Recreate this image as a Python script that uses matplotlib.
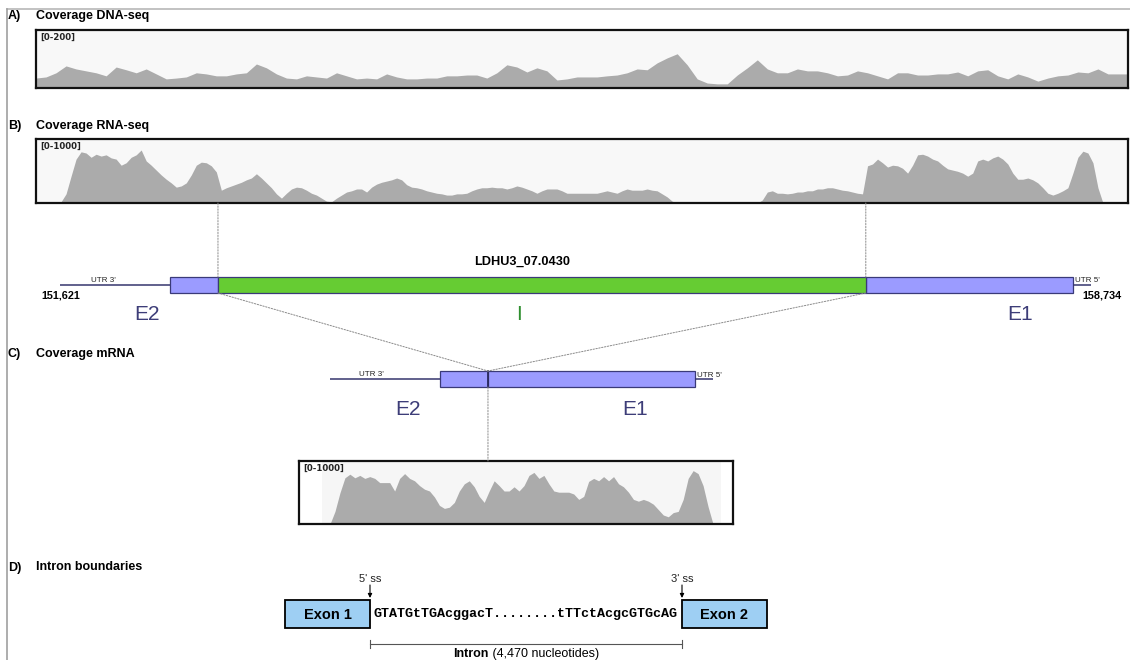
import numpy as np
import matplotlib.pyplot as plt
from matplotlib.patches import Rectangle, ConnectionPatch
from matplotlib.transforms import blended_transform_factory

W, H = 1130, 660
BP_PER_PX = 6.9

# Gene model (genomic coordinates, bp)
gene_name = 'LDHU3_07.0430'
gene_start = 151621
gene_end = 158734
cds_start = 152380      # E2 coding part starts
cds_end = 158611        # E1 coding part ends
intron_start = 152711
intron_len = 4470
intron_end = intron_start + intron_len

# Coverage (reads per bin)
dna_range = 200
dna_cov = [
    36, 40, 55, 80, 69, 62, 55, 44, 76, 66,
    55, 69, 51, 33, 36, 40, 55, 51, 44, 44,
    51, 55, 87, 73, 51, 36, 33, 44, 40, 36,
    55, 44, 33, 36, 33, 51, 40, 33, 33, 36,
    36, 44, 44, 47, 47, 36, 55, 84, 76, 58,
    73, 62, 29, 33, 40, 40, 40, 44, 47, 55,
    69, 66, 91, 109, 124, 84, 33, 18, 15, 15,
    47, 73, 102, 69, 55, 55, 69, 62, 62, 55,
    44, 47, 62, 55, 44, 33, 55, 55, 47, 47,
    51, 51, 58, 44, 62, 66, 44, 33, 51, 40,
    25, 36, 44, 47, 58, 55, 69, 51, 51, 51,
]

rna_range = 1000
rna_cov = [
    0, 0, 0, 0, 0, 20, 150, 440, 720, 840,
    820, 750, 800, 770, 790, 740, 720, 620, 660, 750,
    790, 870, 690, 620, 540, 460, 390, 330, 260, 280,
    330, 460, 620, 670, 660, 610, 510, 210, 250, 280,
    310, 340, 380, 410, 480, 410, 330, 250, 150, 80,
    160, 230, 260, 250, 210, 160, 130, 80, 30, 20,
    80, 130, 180, 200, 230, 230, 180, 260, 310, 340,
    360, 380, 410, 380, 300, 260, 250, 230, 200, 180,
    160, 150, 130, 130, 150, 150, 160, 200, 230, 250,
    250, 260, 250, 250, 230, 250, 280, 260, 230, 200,
    160, 200, 230, 230, 230, 200, 160, 160, 160, 160,
    160, 160, 160, 180, 200, 180, 160, 200, 230, 210,
    210, 210, 230, 210, 200, 150, 100, 30, 0, 0,
    0, 0, 0, 0, 0, 0, 0, 0, 0, 0,
    0, 0, 0, 0, 0, 50, 180, 200, 160, 160,
    150, 160, 180, 180, 200, 200, 230, 230, 250, 250,
    230, 210, 200, 180, 160, 150, 610, 640, 720, 660,
    590, 620, 610, 570, 490, 620, 790, 800, 770, 720,
    690, 620, 560, 540, 520, 490, 440, 490, 690, 720,
    690, 740, 770, 720, 640, 490, 390, 390, 410, 380,
    330, 250, 160, 130, 160, 200, 250, 490, 750, 850,
    820, 660, 250, 0, 0, 0, 0, 0, 0,
]

mrna_range = 1000
mrna_cov = [
    0, 210, 520, 770, 830, 770, 810, 760, 790, 760,
    690, 690, 690, 550, 760, 840, 760, 720, 640, 580,
    550, 450, 310, 260, 280, 360, 550, 670, 720, 620,
    460, 360, 550, 720, 640, 550, 550, 620, 550, 640,
    810, 860, 760, 810, 670, 550, 530, 530, 530, 500,
    410, 460, 710, 760, 720, 790, 720, 790, 670, 620,
    530, 410, 380, 410, 380, 330, 240, 150, 120, 190,
    210, 410, 760, 890, 840, 640, 290, 0,
]

# Splice sites
seq_5ss = 'GTATGtTGAcggacT'
seq_3ss = 'tTTctAcgcGTGcAG'

# mRNA coordinates (intron removed)
mrna_len = gene_end - gene_start - intron_len
junction = intron_start - gene_start
mrna_cds = (cds_start - gene_start, cds_end - gene_start - intron_len)

plt.rcParams['font.family'] = ['Liberation Sans', 'DejaVu Sans']

fig = plt.figure(figsize=(W / 100, H / 100), dpi=100)
canvas = fig.add_axes([0, 0, 1, 1])
canvas.set_xlim(0, W)
canvas.set_ylim(H, 0)
canvas.axis('off')


def px_axes(x0, x1, y0, y1, origin, origin_px):
    ax = fig.add_axes([x0 / W, 1 - y1 / H, (x1 - x0) / W, (y1 - y0) / H])
    ax.set_xlim(origin + (x0 - origin_px) * BP_PER_PX,
                origin + (x1 - origin_px) * BP_PER_PX)
    return ax


def coverage_track(ax, start, end, values, vmax):
    xs = np.linspace(start, end, len(values))
    ax.fill_between(xs, 0, values, color='#ababab', lw=0, zorder=2)
    ax.set_ylim(0, vmax * 1.05)
    ax.set_xticks([])
    ax.set_yticks([])
    for sp in ax.spines.values():
        sp.set_linewidth(1.6)
        sp.set_color('#111111')
    ax.annotate(f'[0-{vmax}]', xy=(0, 1), xycoords='axes fraction',
                xytext=(4, -3), textcoords='offset pixels', ha='left', va='top',
                fontsize=6.2, fontweight='bold', family='DejaVu Sans', color='#222222',
                zorder=3)


# outer frame
canvas.plot([7, W], [9, 9], color='#b8b8b8', lw=1.2)
canvas.plot([7, 7], [9, H], color='#a0a0a0', lw=1.2)

# panel titles
titles = [('A)', 'Coverage DNA-seq', 19.5), ('B)', 'Coverage RNA-seq', 128.5),
          ('C)', 'Coverage mRNA', 356.5), ('D)', 'Intron boundaries', 570.5)]
for tag, title, yb in titles:
    canvas.text(8, yb, tag, fontsize=9, fontweight='bold', va='baseline')
    canvas.text(36, yb, title, fontsize=9, fontweight='bold', va='baseline')

# A) and B) genomic coverage
dna_ax = px_axes(36, 1128, 30, 88, gene_start, 60)
dna_ax.set_facecolor('#f8f8f8')
coverage_track(dna_ax, *dna_ax.get_xlim(), dna_cov, dna_range)

rna_ax = px_axes(36, 1128, 139, 203, gene_start, 60)
rna_ax.set_facecolor('#f8f8f8')
coverage_track(rna_ax, *rna_ax.get_xlim(), rna_cov, rna_range)

# gene structure
line_kw = dict(color='#35356e', lw=1.1, solid_capstyle='butt')
exon_kw = dict(facecolor='#9b9bff', edgecolor='#3a3a78', lw=0.9, clip_on=False)

gene_ax = px_axes(36, 1128, 277, 293, gene_start, 60)
gene_ax.set_ylim(0, 1)
gene_ax.axis('off')
gene_ax.plot([gene_start, cds_start], [0.5, 0.5], clip_on=False, **line_kw)
gene_ax.plot([cds_end, gene_end], [0.5, 0.5], clip_on=False, **line_kw)
gene_ax.add_patch(Rectangle((cds_start, 0), intron_start - cds_start, 1, **exon_kw))
gene_ax.add_patch(Rectangle((intron_end, 0), cds_end - intron_end, 1, **exon_kw))
gene_ax.add_patch(Rectangle((intron_start, 0), intron_len, 1, facecolor='#66cc33',
                            edgecolor='#3a3a78', lw=0.9, clip_on=False))

gene_tr = blended_transform_factory(gene_ax.transData, canvas.transData)
canvas.text(522, 265, gene_name, fontsize=9.2, fontweight='bold', ha='center', va='baseline')
canvas.text(103, 281.5, "UTR 3'", fontsize=5.8, ha='center', va='baseline', color='#222222')
canvas.text(cds_end + 15, 282.5, "UTR 5'", transform=gene_tr, fontsize=5.8,
            ha='left', va='baseline', color='#222222')
canvas.text(61, 298, f'{gene_start:,}', fontsize=7.8, fontweight='bold', ha='center', va='baseline')
canvas.text(1082, 298, f'{gene_end:,}', fontsize=7.8, fontweight='bold', ha='left', va='baseline')
canvas.text(147, 320, 'E2', fontsize=15, color='#3d3d78', ha='center', va='baseline')
canvas.text(1020, 320, 'E1', fontsize=15, color='#3d3d78', ha='center', va='baseline')
canvas.text(519, 320, 'I', fontsize=15, color='#2f8f2f', ha='center', va='baseline')

# C) spliced transcript
mrna_ax = px_axes(299, 733, 371, 387, 0, 330)
mrna_ax.set_ylim(0, 1)
mrna_ax.axis('off')
mrna_ax.plot([0, mrna_cds[0]], [0.5, 0.5], clip_on=False, **line_kw)
mrna_ax.plot([mrna_cds[1], mrna_len], [0.5, 0.5], clip_on=False, **line_kw)
mrna_ax.add_patch(Rectangle((mrna_cds[0], 0), junction - mrna_cds[0], 1, **exon_kw))
mrna_ax.add_patch(Rectangle((junction, 0), mrna_cds[1] - junction, 1, **exon_kw))
mrna_ax.plot([junction, junction], [0, 1], color='#2a2a60', lw=1.3, clip_on=False)

mrna_tr = blended_transform_factory(mrna_ax.transData, canvas.transData)
canvas.text(371, 376.5, "UTR 3'", fontsize=5.8, ha='center', va='baseline', color='#222222')
canvas.text(mrna_cds[1] + 15, 377, "UTR 5'", transform=mrna_tr, fontsize=5.8,
            ha='left', va='baseline', color='#222222')
canvas.text(408, 415, 'E2', fontsize=15, color='#3d3d78', ha='center', va='baseline')
canvas.text(635, 415, 'E1', fontsize=15, color='#3d3d78', ha='center', va='baseline')

mcov_ax = px_axes(299, 733, 461, 524, 0, 330)
mcov_ax.set_facecolor('white')
mcov_ax.axvspan(-55, mrna_len + 55, color='#f6f6f6', lw=0, zorder=1)
coverage_track(mcov_ax, 0, mrna_len, mrna_cov, mrna_range)

# dotted guides between panels
dot = dict(arrowstyle='-', color='#8a8a8a', lw=0.7, linestyle=(0, (1.5, 1.5)),
           shrinkA=0, shrinkB=0)
for pos in (intron_start, intron_end):
    fig.add_artist(ConnectionPatch((pos, 0), (pos, 1),
                                   coordsA=rna_ax.get_xaxis_transform(),
                                   coordsB=gene_ax.transData, **dot))
    fig.add_artist(ConnectionPatch((pos, 0), (junction, 1),
                                   coordsA=gene_ax.transData,
                                   coordsB=mrna_ax.transData, **dot))
fig.add_artist(ConnectionPatch((junction, 0), (junction, 1),
                               coordsA=mrna_ax.transData,
                               coordsB=mcov_ax.get_xaxis_transform(), **dot))

# D) intron boundaries
for x0, label in ((285, 'Exon 1'), (682, 'Exon 2')):
    canvas.add_patch(Rectangle((x0, 600), 85, 28, facecolor='#9ecff3',
                               edgecolor='black', lw=1.3))
    canvas.text(x0 + 42.5, 619, label, fontsize=10.5, fontweight='bold',
                ha='center', va='baseline')

canvas.text(526, 614.5, seq_5ss + '.' * 8 + seq_3ss, family='Liberation Mono',
            fontweight='bold', fontsize=9.6, ha='center', va='center')

for x, label in ((370, "5' ss"), (682, "3' ss")):
    canvas.text(x, 582, label, fontsize=8, ha='center', va='baseline', color='#222222')
    canvas.annotate('', xy=(x, 598), xytext=(x, 585),
                    arrowprops=dict(arrowstyle='-|>', color='black', lw=0.8,
                                    mutation_scale=6, shrinkA=0, shrinkB=0))

canvas.plot([370, 682], [644, 644], color='#555555', lw=0.8)
canvas.plot([370, 370], [640, 648], color='#555555', lw=0.8)
canvas.plot([682, 682], [640, 648], color='#555555', lw=0.8)
canvas.text(489, 657, 'Intron', fontsize=9, fontweight='bold', ha='right', va='baseline')
canvas.text(489, 657, f' ({intron_len:,} nucleotides)', fontsize=9, ha='left', va='baseline')

fig.savefig('out.png', dpi=100)
